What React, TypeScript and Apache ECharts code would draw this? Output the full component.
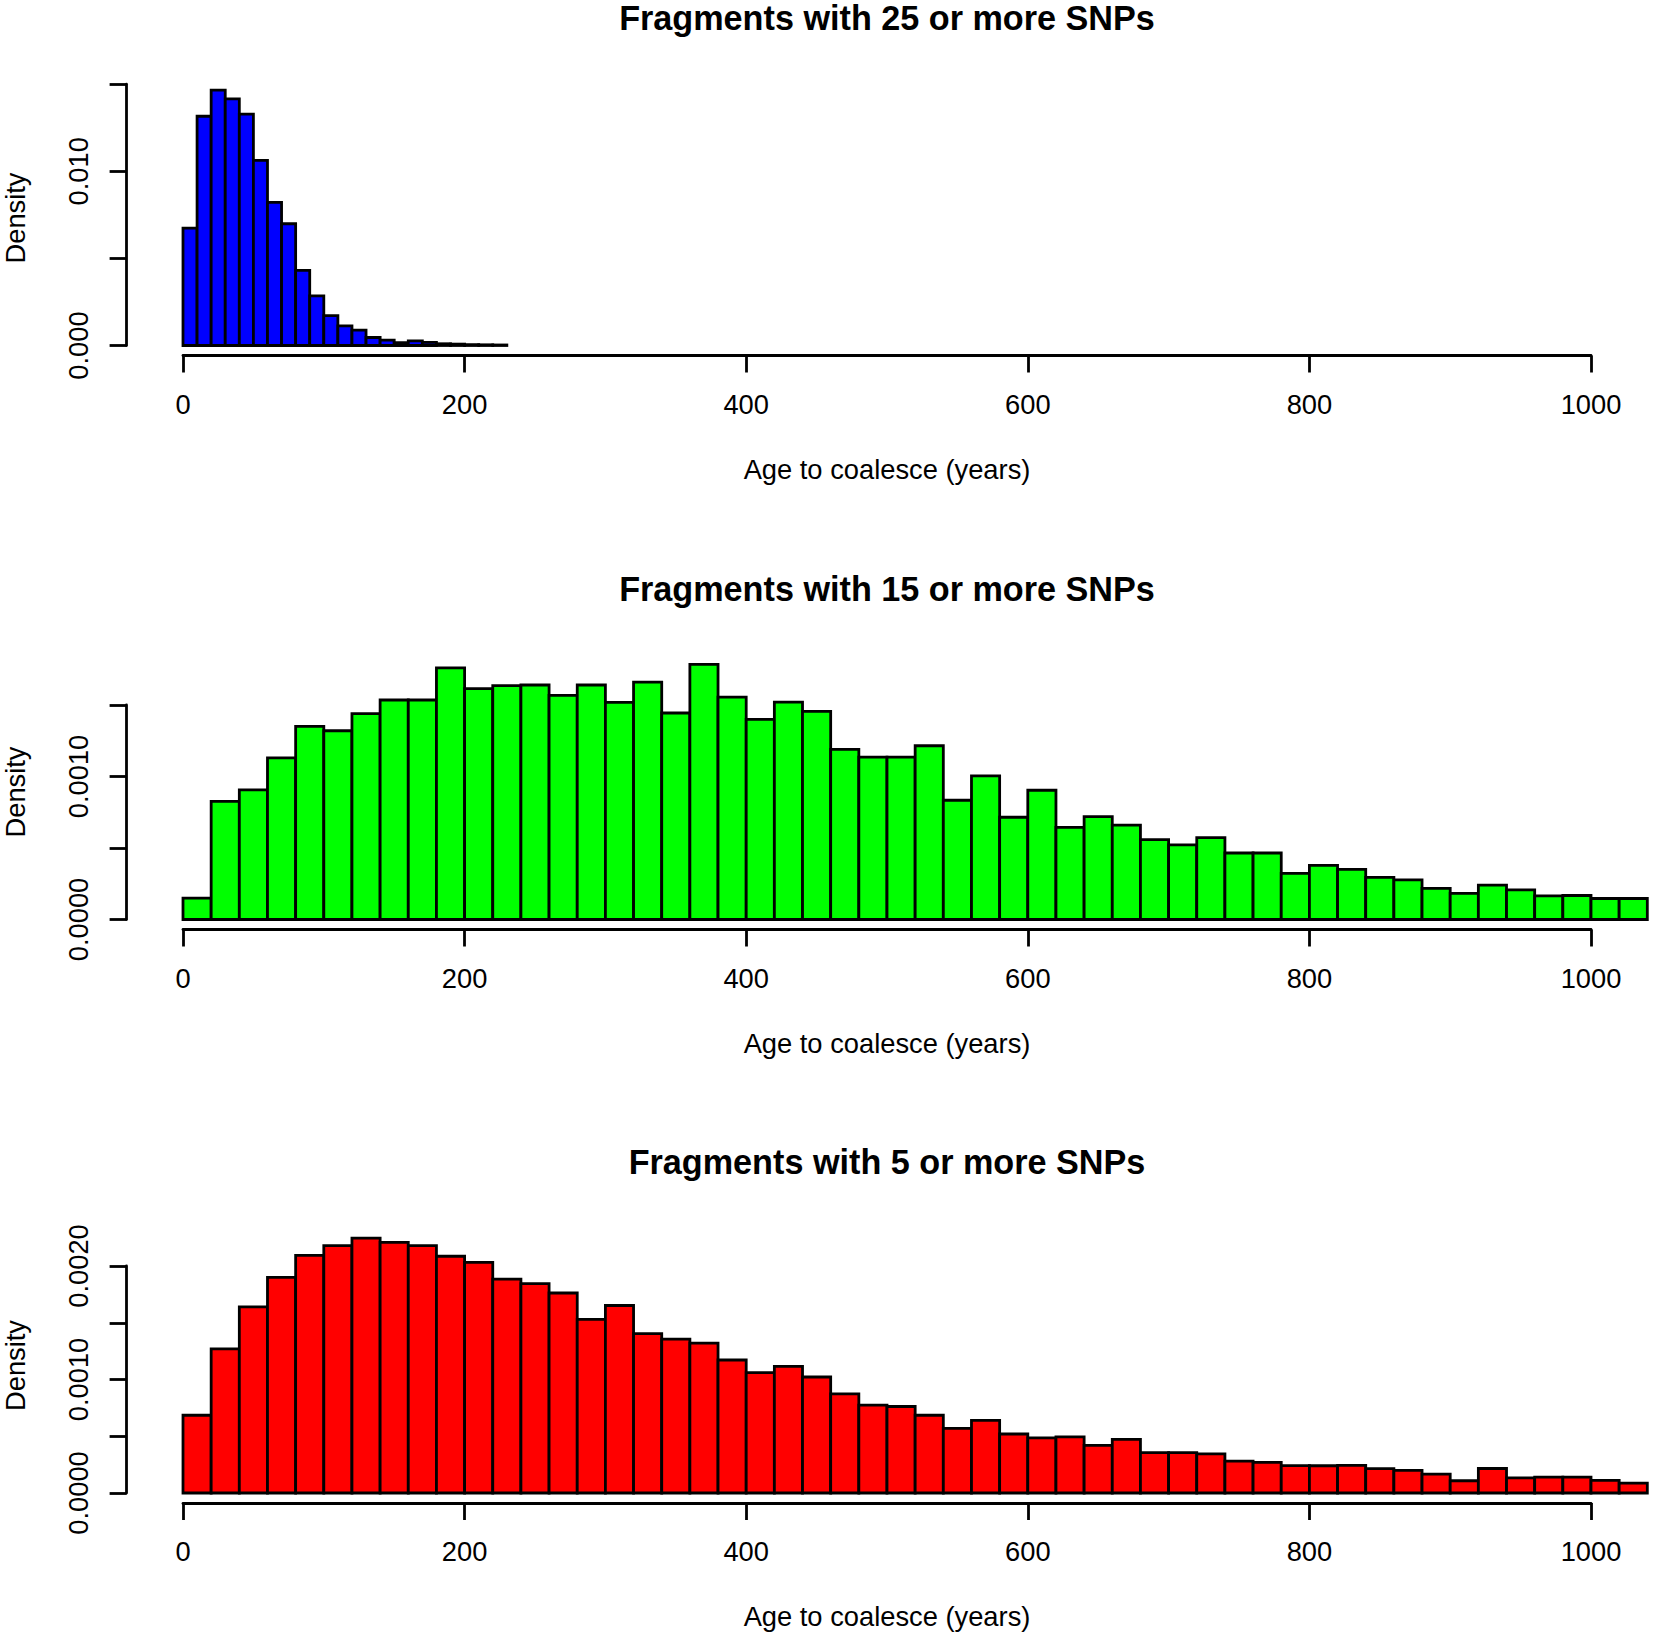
import React, { useEffect, useRef } from "react";
import * as echarts from "echarts";

// ---- data (density per bin) ----
const p1Title = "Fragments with 25 or more SNPs";
const p2Title = "Fragments with 15 or more SNPs";
const p3Title = "Fragments with 5 or more SNPs";
const xName = "Age to coalesce (years)";
const yName = "Density";

const p1BinWidth = 10;
const p1Density = [
  0.00674, 0.01316, 0.01466, 0.01416, 0.01328, 0.01063, 0.00822, 0.00699, 0.00431, 0.00285,
  0.00172, 0.00113, 0.00088, 0.00046, 0.00031, 0.00017, 0.00027, 0.00018, 0.0001, 0.00008,
  0.00005, 0.00004, 0.00003,
];

const p2BinWidth = 20;
const p2Density = [
  0.00015, 0.000826, 0.000906, 0.00113, 0.00135, 0.00132, 0.00144, 0.001535, 0.001535, 0.00176,
  0.001615, 0.001635, 0.00164, 0.001568, 0.00164, 0.001518, 0.00166, 0.001444, 0.001784, 0.001555,
  0.0014, 0.00152, 0.001455, 0.00119, 0.001136, 0.001136, 0.001215, 0.000834, 0.001005, 0.000715,
  0.000904, 0.000644, 0.00072, 0.00066, 0.000558, 0.000522, 0.000573, 0.000465, 0.000465, 0.000322,
  0.000379, 0.00035, 0.000295, 0.000277, 0.000218, 0.000182, 0.00024, 0.000207, 0.000165, 0.000168,
  0.000147, 0.000147,
];

const p3BinWidth = 20;
const p3Density = [
  0.000685, 0.00127, 0.00164, 0.0019, 0.002094, 0.00218, 0.002245, 0.002208, 0.00218, 0.002086,
  0.002032, 0.001884, 0.001844, 0.001762, 0.001529, 0.001652, 0.001405, 0.001355, 0.00132, 0.001172,
  0.00106, 0.001115, 0.001022, 0.000873, 0.000775, 0.000762, 0.000685, 0.00057, 0.00064, 0.00052,
  0.000485, 0.000495, 0.00042, 0.000473, 0.000356, 0.000356, 0.000344, 0.00028, 0.000269, 0.000242,
  0.00024, 0.000243, 0.000215, 0.0002, 0.000166, 0.000108, 0.000216, 0.000134, 0.00014, 0.00014,
  0.000111, 0.0000876,
];

const xMin = 0;
const xMax = 1000;
const xInterval = 200;

const p1YMax = 0.015;
const p1YInterval = 0.005;
const p1YTickLabels = ["0.000", "", "0.010", ""];
const p2YMax = 0.0015;
const p2YInterval = 0.0005;
const p2YTickLabels = ["0.0000", "", "0.0010", ""];
const p3YMax = 0.002;
const p3YInterval = 0.0005;
const p3YTickLabels = ["0.0000", "", "0.0010", "", "0.0020"];

// ---- layout / style ----
const W = 1654;
const H = 1640;
const FONT = '"Liberation Sans", Arial, Helvetica, sans-serif';
const FS = 27.3;
const TITLE_FS = 34.2;
const LW = 2.8;
const GRID_LEFT = 183;
const GRID_RIGHT = W - 1591;

const panels = [
  { title: p1Title, bw: p1BinWidth, data: p1Density, color: "#0000FF", yMax: p1YMax, yInt: p1YInterval, labels: p1YTickLabels, top: 84.2, base: 345.5, titleY: 18 },
  { title: p2Title, bw: p2BinWidth, data: p2Density, color: "#00FF00", yMax: p2YMax, yInt: p2YInterval, labels: p2YTickLabels, top: 705, base: 919.5, titleY: 589 },
  { title: p3Title, bw: p3BinWidth, data: p3Density, color: "#FF0000", yMax: p3YMax, yInt: p3YInterval, labels: p3YTickLabels, top: 1266, base: 1493, titleY: 1162 },
];

export default function App() {
  const ref = useRef<HTMLDivElement>(null);

  useEffect(() => {
    document.body.style.margin = "0";
    if (!ref.current) return;
    const chart = echarts.init(ref.current, null, { renderer: "svg" });

    const grid: any[] = [];
    const xAxis: any[] = [];
    const yAxis: any[] = [];
    const series: any[] = [];
    const graphic: any[] = [];

    panels.forEach((p, i) => {
      grid.push({ left: GRID_LEFT, right: GRID_RIGHT, top: p.top, height: p.base - p.top, containLabel: false });
      xAxis.push({
        type: "value",
        gridIndex: i,
        min: xMin,
        max: xMax,
        interval: xInterval,
        position: "bottom",
        offset: 10,
        axisLine: { show: true, onZero: false, lineStyle: { color: "#000", width: LW } },
        axisTick: { show: true, length: 17, lineStyle: { color: "#000", width: LW } },
        axisLabel: {
          margin: 35,
          fontSize: FS,
          color: "#000",
          fontFamily: FONT,
          formatter: (v: number) => String(v),
        },
        splitLine: { show: false },
        name: xName,
        nameLocation: "middle",
        nameGap: 100,
        nameTextStyle: { fontSize: FS, color: "#000", fontFamily: FONT },
      });
      yAxis.push({
        type: "value",
        gridIndex: i,
        min: 0,
        max: p.yMax,
        interval: p.yInt,
        position: "left",
        offset: GRID_LEFT - 126.6,
        axisLine: { show: true, onZero: false, lineStyle: { color: "#000", width: LW } },
        axisTick: { show: true, length: 17, lineStyle: { color: "#000", width: LW } },
        axisLabel: {
          rotate: 90,
          margin: 35,
          fontSize: FS,
          color: "#000",
          fontFamily: FONT,
          showMinLabel: true,
          showMaxLabel: true,
          formatter: (v: number) => {
            const k = Math.round(v / p.yInt);
            return p.labels[k] ?? "";
          },
        },
        splitLine: { show: false },
      });
      const rows = p.data.map((d, k) => [k * p.bw, (k + 1) * p.bw, d]);
      const color = p.color;
      series.push({
        type: "custom",
        xAxisIndex: i,
        yAxisIndex: i,
        clip: false,
        data: rows,
        encode: { x: [0, 1], y: 2 },
        renderItem: (_params: any, api: any) => {
          const a = api.coord([api.value(0), api.value(2)]);
          const b = api.coord([api.value(1), 0]);
          return {
            type: "rect",
            shape: { x: a[0], y: a[1], width: b[0] - a[0], height: b[1] - a[1] },
            style: { fill: color, stroke: "#000", lineWidth: LW },
          };
        },
      });
      graphic.push({
        type: "text",
        x: 887,
        y: p.titleY,
        style: {
          text: p.title,
          align: "center",
          verticalAlign: "middle",
          fontSize: TITLE_FS,
          fontWeight: "bold",
          fontFamily: FONT,
          fill: "#000",
        },
      });
      graphic.push({
        type: "text",
        x: 15,
        y: p.base - 127.5,
        rotation: Math.PI / 2,
        style: {
          text: yName,
          align: "center",
          verticalAlign: "middle",
          fontSize: FS,
          fontFamily: FONT,
          fill: "#000",
        },
      });
    });

    chart.setOption({
      animation: false,
      backgroundColor: "#fff",
      grid,
      xAxis,
      yAxis,
      series,
      graphic,
    });

    return () => chart.dispose();
  }, []);

  return <div ref={ref} style={{ width: W, height: H }} />;
}
